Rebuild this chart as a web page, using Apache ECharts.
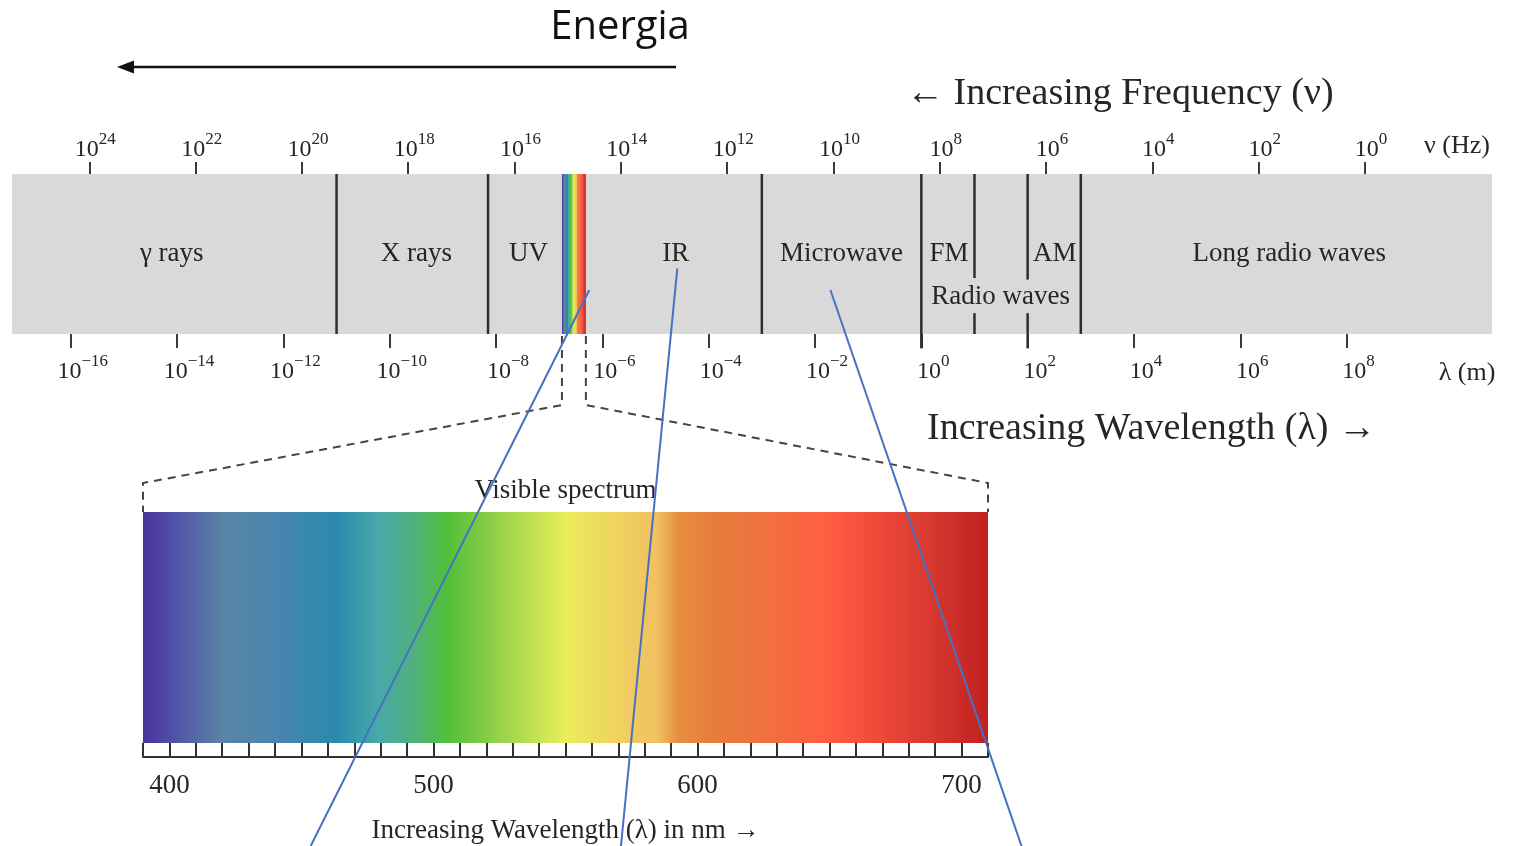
<!DOCTYPE html>
<html>
<head>
<meta charset="utf-8">
<script src="https://cdn.jsdelivr.net/npm/echarts@6/dist/echarts.min.js"></script>
<style>
  html, body { margin: 0; padding: 0; background: #ffffff; }
  #chart { width: 1537px; height: 846px; }
</style>
</head>
<body>
<div id="chart"></div>
<script>
// log10 of frequency (Hz) at the labelled ticks of the upper scale
const freqTickExps = [24, 22, 20, 18, 16, 14, 12, 10, 8, 6, 4, 2, 0];
// log10 of wavelength (m) at the labelled ticks of the lower scale
const waveTickExps = [-16, -14, -12, -10, -8, -6, -4, -2, 0, 2, 4, 6, 8];

// band names, their centre (log10 of wavelength in m) and row (0 = bottom, 1 = top of the band)
const bandNames = ['γ rays', 'X rays', 'UV', 'IR', 'Microwave', 'FM', 'AM', 'Long radio waves', 'Radio waves'];
const bandCenters = [-14.1, -9.5, -7.39, -4.62, -1.5, 0.52, 2.51, 6.92, 1.49];
const bandRows = [0.5, 0.5, 0.5, 0.5, 0.5, 0.5, 0.5, 0.5, 0.23];

// separators between bands: position (log10 of wavelength), lower and upper end
const boundaryPos = [-11, -8.15, -3, 0, 1, 1, 2, 2, 3];
const boundaryFrom = [0, 0, 0, -0.09, 0.35, 0, 0.34, -0.09, 0];
const boundaryTo = [1, 1, 1, 1, 1, 0.13, 1, 0.13, 1];

// the visible window inside the full spectrum (log10 of wavelength in m)
const visibleRange = [-6.76, -6.31];

// visible spectrum: wavelength in nm and its colour
const visibleNm = [390, 401, 420, 440, 463, 479, 492, 505, 523, 550, 570, 585, 592, 605, 626, 648, 667, 687, 710];
const visibleColors = ['#4a33a0', '#5050a5', '#5a84a8', '#4a85ad', '#2a8aad', '#48a8a8', '#50b080', '#50c03a',
  '#90d048', '#eaef5a', '#f0d060', '#f0c060', '#e59040', '#e87d3c', '#f07040', '#fe5e42', '#f04a3a', '#d83a30', '#c02020'];
const visibleTicks = [390, 400, 410, 420, 430, 440, 450, 460, 470, 480, 490, 500, 510, 520, 530, 540, 550,
  560, 570, 580, 590, 600, 610, 620, 630, 640, 650, 660, 670, 680, 690, 700, 710];
const visibleLabels = [400, 500, 600, 700];

// pointer lines: start in the band (log10 λ, row), end at the page foot (nm of the lower scale)
const pointerFrom = [[-6.245, 0.275], [-4.59, 0.41], [-1.71, 0.275]];
const pointerTo = [453.5, 571, 722.7];

const SERIF = "'Liberation Serif', 'Times New Roman', serif";
const INK = '#262626';

function powerLabel(v) {
  const e = Math.round(v);
  const s = e < 0 ? '\u2212' + (-e) : String(e);
  return '{b|10}{s|' + s + '}';
}
const powerRich = {
  b: { fontFamily: SERIF, fontSize: 24, lineHeight: 31, verticalAlign: 'bottom', color: INK },
  s: { fontFamily: SERIF, fontSize: 17, lineHeight: 16, verticalAlign: 'top', color: INK }
};

const spectrumStops = visibleNm.map((nm, i) => ({
  offset: (nm - visibleNm[0]) / (visibleNm[visibleNm.length - 1] - visibleNm[0]),
  color: visibleColors[i]
}));

const chart = echarts.init(document.getElementById('chart'), null, { renderer: 'canvas' });

const option = {
  animation: false,
  backgroundColor: '#ffffff',
  grid: [
    { left: 12, width: 1480, top: 174, height: 160, show: true, backgroundColor: '#d9d9d9', borderWidth: 0 },
    { left: 143, width: 845, top: 512, height: 245, show: false }
  ],
  xAxis: [
    {
      gridIndex: 0, type: 'value', position: 'bottom', min: -17.105, max: 10.735,
      axisLine: { show: false, onZero: false }, splitLine: { show: false },
      axisTick: { show: true, customValues: waveTickExps, length: 14, lineStyle: { color: '#3a3a3a', width: 2 } },
      axisLabel: { customValues: waveTickExps, formatter: powerLabel, rich: powerRich, margin: 19, padding: [0, 0, 0, 24] }
    },
    {
      gridIndex: 0, type: 'value', position: 'top', inverse: true, min: -2.39, max: 25.455,
      axisLine: { show: false, onZero: false }, splitLine: { show: false },
      axisTick: { show: true, customValues: freqTickExps, length: 12, lineStyle: { color: '#3a3a3a', width: 2 } },
      axisLabel: { customValues: freqTickExps, formatter: powerLabel, rich: powerRich, margin: 12, padding: [0, 0, 0, 12] }
    },
    {
      gridIndex: 1, type: 'value', position: 'bottom', min: 390, max: 710,
      axisLine: { show: true, onZero: false, lineStyle: { color: '#333', width: 2 } },
      splitLine: { show: false },
      axisTick: { show: true, inside: true, length: 14, customValues: visibleTicks, lineStyle: { color: '#333', width: 2 } },
      axisLabel: { customValues: visibleLabels, fontFamily: SERIF, fontSize: 27, color: INK, margin: 15 },
      name: 'Increasing Wavelength (λ) in nm →', nameLocation: 'middle', nameGap: 60,
      nameTextStyle: { fontFamily: SERIF, fontSize: 27, color: INK }
    }
  ],
  yAxis: [
    { gridIndex: 0, type: 'value', min: 0, max: 1, show: false },
    // 0..1 is the coloured strip; the band below it holds the tick comb
    { gridIndex: 1, type: 'value', min: -0.0606, max: 1, show: false }
  ],
  series: [
    {
      // visible window in the full band
      type: 'custom', xAxisIndex: 0, yAxisIndex: 0, z: 3,
      data: [visibleRange],
      encode: { x: [0, 1] },
      renderItem: function (params, api) {
        const a = api.coord([api.value(0), 1]);
        const b = api.coord([api.value(1), 0]);
        return {
          type: 'rect',
          shape: { x: a[0], y: a[1], width: b[0] - a[0], height: b[1] - a[1] },
          style: { fill: new echarts.graphic.LinearGradient(0, 0, 1, 0, spectrumStops) }
        };
      }
    },
    {
      // separators between bands
      type: 'custom', xAxisIndex: 0, yAxisIndex: 0, z: 4,
      data: boundaryPos.map((p, i) => [p, boundaryFrom[i], boundaryTo[i]]),
      encode: { x: 0, y: [1, 2] },
      renderItem: function (params, api) {
        const a = api.coord([api.value(0), api.value(1)]);
        const b = api.coord([api.value(0), api.value(2)]);
        return {
          type: 'line',
          shape: { x1: a[0], y1: a[1], x2: b[0], y2: b[1] },
          style: { stroke: '#2e2e2e', lineWidth: 2.5 }
        };
      }
    },
    {
      // band names
      type: 'custom', xAxisIndex: 0, yAxisIndex: 0, z: 5,
      data: bandCenters.map((c, i) => [c, bandRows[i]]),
      encode: { x: 0, y: 1 },
      renderItem: function (params, api) {
        const p = api.coord([api.value(0), api.value(1)]);
        return {
          type: 'text', x: p[0], y: p[1],
          style: {
            text: bandNames[params.dataIndex], fill: INK,
            fontFamily: SERIF, fontSize: 27, align: 'center', verticalAlign: 'middle'
          }
        };
      }
    },
    {
      // visible spectrum, one gradient piece per pair of colour stops
      type: 'custom', xAxisIndex: 2, yAxisIndex: 1, z: 3,
      data: visibleNm.slice(0, -1).map((nm, i) => [nm, visibleNm[i + 1]]),
      encode: { x: [0, 1] },
      renderItem: function (params, api) {
        const i = params.dataIndex;
        const a = api.coord([api.value(0), 1]);
        const b = api.coord([api.value(1), 0]);
        const last = i === visibleNm.length - 2;
        return {
          type: 'rect',
          shape: { x: a[0], y: a[1], width: b[0] - a[0] + (last ? 0 : 0.8), height: b[1] - a[1] },
          style: {
            fill: new echarts.graphic.LinearGradient(0, 0, 1, 0, [
              { offset: 0, color: visibleColors[i] },
              { offset: 1, color: visibleColors[i + 1] }
            ])
          }
        };
      }
    }
  ]
};

chart.setOption(option);

// decorations placed from the scales
const band = (x, y) => chart.convertToPixel({ xAxisIndex: 0, yAxisIndex: 0 }, [x, y]);
const vis = (x, y) => chart.convertToPixel({ xAxisIndex: 2, yAxisIndex: 1 }, [x, y]);
const H = chart.getHeight();

const dash = { stroke: '#444', lineWidth: 2, lineDash: [8, 6], fill: null };
const leftTop = band(visibleRange[0], 0);
const rightTop = band(visibleRange[1], 0);
const elbowY = leftTop[1] + 71;
const visLeft = vis(390, 1.1255);
const visRight = vis(710, 1.1255);
const visLeftTop = vis(390, 1);
const visRightTop = vis(710, 1);

const graphics = [
  {
    type: 'text', x: 620, y: 28, z: 50,
    style: { text: 'Energia', fontFamily: "'Open Sans', 'Noto Sans', sans-serif", fontSize: 40, fill: '#111', align: 'center', verticalAlign: 'middle' }
  },
  { type: 'line', z: 50, shape: { x1: 676, y1: 67, x2: 130, y2: 67 }, style: { stroke: '#111', lineWidth: 2.5 } },
  { type: 'polygon', z: 50, shape: { points: [[117, 67], [134, 60.5], [134, 73.5]] }, style: { fill: '#111' } },
  {
    type: 'text', x: 906, y: 94, z: 50,
    style: { text: '← Increasing Frequency (ν)', fontFamily: SERIF, fontSize: 38, fill: INK, align: 'left', verticalAlign: 'middle' }
  },
  {
    type: 'text', x: 1457, y: 146, z: 50,
    style: { text: 'ν (Hz)', fontFamily: SERIF, fontSize: 26, fill: INK, align: 'center', verticalAlign: 'middle' }
  },
  {
    type: 'text', x: 1467, y: 373, z: 50,
    style: { text: 'λ (m)', fontFamily: SERIF, fontSize: 26, fill: INK, align: 'center', verticalAlign: 'middle' }
  },
  {
    type: 'text', x: 927, y: 429, z: 50,
    style: { text: 'Increasing Wavelength (λ) →', fontFamily: SERIF, fontSize: 38, fill: INK, align: 'left', verticalAlign: 'middle' }
  },
  {
    type: 'text', x: (visLeftTop[0] + visRightTop[0]) / 2, y: 491, z: 50,
    style: { text: 'Visible spectrum', fontFamily: SERIF, fontSize: 27, fill: INK, align: 'center', verticalAlign: 'middle' }
  },
  {
    type: 'polyline', z: 60,
    shape: { points: [[leftTop[0], leftTop[1] + 2], [leftTop[0], elbowY], visLeft, visLeftTop] },
    style: dash
  },
  {
    type: 'polyline', z: 60,
    shape: { points: [[rightTop[0], rightTop[1] + 2], [rightTop[0], elbowY], visRight, visRightTop] },
    style: dash
  }
];

pointerFrom.forEach((p, i) => {
  const a = band(p[0], p[1]);
  const bx = vis(pointerTo[i], 0)[0];
  graphics.push({
    type: 'line', z: 80,
    shape: { x1: a[0], y1: a[1], x2: bx, y2: H },
    style: { stroke: '#4472c4', lineWidth: 2 }
  });
});

chart.setOption({ graphic: { elements: graphics } });
</script>
</body>
</html>
